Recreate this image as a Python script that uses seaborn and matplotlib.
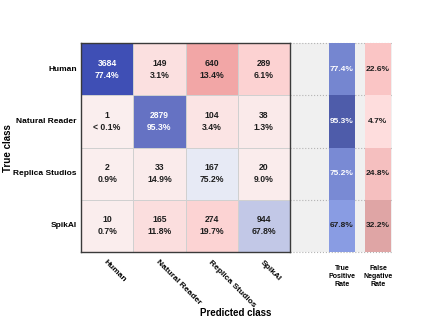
import numpy as np
import matplotlib
matplotlib.use("Agg")
import matplotlib.pyplot as plt
from matplotlib.colors import LinearSegmentedColormap, Normalize, to_rgb
import seaborn as sns

plt.rcParams['font.family'] = ['Liberation Sans', 'DejaVu Sans']

# ---- data ----
classes = ["Human", "Natural Reader", "Replica Studios", "SpikAI"]
counts_human = [3684, 149, 640, 289]
counts_natural = [1, 2879, 104, 38]
counts_replica = [2, 33, 167, 20]
counts_spikai = [10, 165, 274, 944]
summary_labels = ["True\nPositive\nRate", "False\nNegative\nRate"]

counts = np.array([counts_human, counts_natural, counts_replica, counts_spikai])
row_pct = counts / counts.sum(axis=1, keepdims=True) * 100
tpr = np.diag(row_pct)
fnr = 100 - tpr


def pct_str(p):
    return "< 0.1%" if p < 0.1 else f"{p:.1f}%"


annot = np.array([[f"{counts[i, j]}\n{pct_str(row_pct[i, j])}" for j in range(4)] for i in range(4)])
diag = np.eye(4, dtype=bool)

# ---- colormaps ----
cm_diag = LinearSegmentedColormap.from_list("d", ["#EFF1F8", "#3F4FB5"])
cm_off = LinearSegmentedColormap.from_list("o", [(0, "#FAEEEE"), (0.45, "#FCD2D2"), (1, "#F2A6A6")])
cm_tpr = LinearSegmentedColormap.from_list("t", [(0, "#FFFFFF"), (0.7, "#8C9FE6"), (1, "#4E5CAA")])
cm_fnr = LinearSegmentedColormap.from_list("f", [(0, "#FFE3E3"), (0.72, "#FAC4C4"), (1, "#DFA5A5")])


def lum(c):
    r, g, b = to_rgb(c)
    f = lambda v: v / 12.92 if v <= 0.03928 else ((v + 0.055) / 1.055) ** 2.4
    return 0.2126 * f(r) + 0.7152 * f(g) + 0.0722 * f(b)


W, H = 432, 320


def rect(x0, x1, y0, y1):
    return [x0 / W, 1 - y1 / H, (x1 - x0) / W, (y1 - y0) / H]


fig = plt.figure(figsize=(4.32, 3.2), dpi=100)
bg = fig.add_axes(rect(290, 392, 43, 252))
ax = fig.add_axes(rect(81, 290, 43, 252))
ax_tpr = fig.add_axes(rect(329, 355, 43, 252))
ax_fnr = fig.add_axes(rect(365, 391, 43, 252))

txt_kw = dict(fontsize=6, fontweight="bold")
cell_kw = dict(fontsize=6.2, fontweight="bold", linespacing=1.45)

# confusion matrix
vmax_d = counts[diag].max()
vmax_o = counts[~diag].max()
sns.heatmap(counts, mask=~diag, cmap=cm_diag, vmin=0, vmax=vmax_d, annot=annot, fmt="",
            annot_kws=cell_kw, cbar=False, linewidths=0.6, linecolor="#D0D0D0", ax=ax)
sns.heatmap(counts, mask=diag, cmap=cm_off, vmin=0, vmax=vmax_o, annot=annot, fmt="",
            annot_kws=cell_kw, cbar=False, linewidths=0.6, linecolor="#D0D0D0", ax=ax)
norm_d = Normalize(0, vmax_d)
norm_o = Normalize(0, vmax_o)
for t in ax.texts:
    x, y = t.get_position()
    j, i = int(x), int(y)
    c = cm_diag(norm_d(counts[i, j])) if i == j else cm_off(norm_o(counts[i, j]))
    t.set_color("white" if lum(c) < 0.3 else "#1E1E1E")

ax.set_xticks(np.arange(4) + 0.5)
ax.set_yticks(np.arange(4) + 0.5)
ax.set_xticklabels(classes, rotation=-45, ha="left", va="top", rotation_mode="anchor", **txt_kw)
ax.set_yticklabels(classes, rotation=0, **txt_kw)
ax.tick_params(axis="x", length=0, pad=5)
ax.tick_params(axis="y", length=0, pad=3)
ax.set_xlabel("")
ax.set_ylabel("")
for s in ax.spines.values():
    s.set_visible(True)
    s.set_color("#3A3A3A")
    s.set_linewidth(1.0)

# summary background
bg.set_facecolor("#F0F0F0")
bg.set_xlim(0, 1)
bg.set_ylim(4, 0)
bg.set_xticks([])
bg.set_yticks([])
for s in bg.spines.values():
    s.set_visible(False)
for k in range(5):
    bg.axhline(k, color="#B4B4B4", lw=0.8, ls=":", clip_on=False)

# summary bars
for axs, vals, cm, vmax, lab in [(ax_tpr, tpr, cm_tpr, tpr.max(), summary_labels[0]),
                                  (ax_fnr, fnr, cm_fnr, fnr.max(), summary_labels[1])]:
    data = vals.reshape(-1, 1)
    sns.heatmap(data, cmap=cm, vmin=0, vmax=vmax, annot=np.array([[f"{v:.1f}%"] for v in vals]),
                fmt="", annot_kws=txt_kw, cbar=False, xticklabels=[lab], yticklabels=False, ax=axs)
    nrm = Normalize(0, vmax)
    for t in axs.texts:
        i = int(t.get_position()[1])
        t.set_color("white" if lum(cm(nrm(vals[i]))) < 0.3 else "#1E1E1E")
    axs.set_xticklabels([lab], rotation=0, fontsize=5, fontweight="bold", linespacing=1.3)
    axs.tick_params(axis="x", length=0, pad=9)
    axs.tick_params(axis="y", length=0)

fig.text(236 / W, 1 - 313 / H, "Predicted class", ha="center", va="center", fontsize=7, fontweight="bold")
fig.text(8 / W, 1 - 148 / H, "True class", ha="center", va="center", rotation=90, fontsize=7, fontweight="bold")

fig.savefig("out.png", dpi=100)
